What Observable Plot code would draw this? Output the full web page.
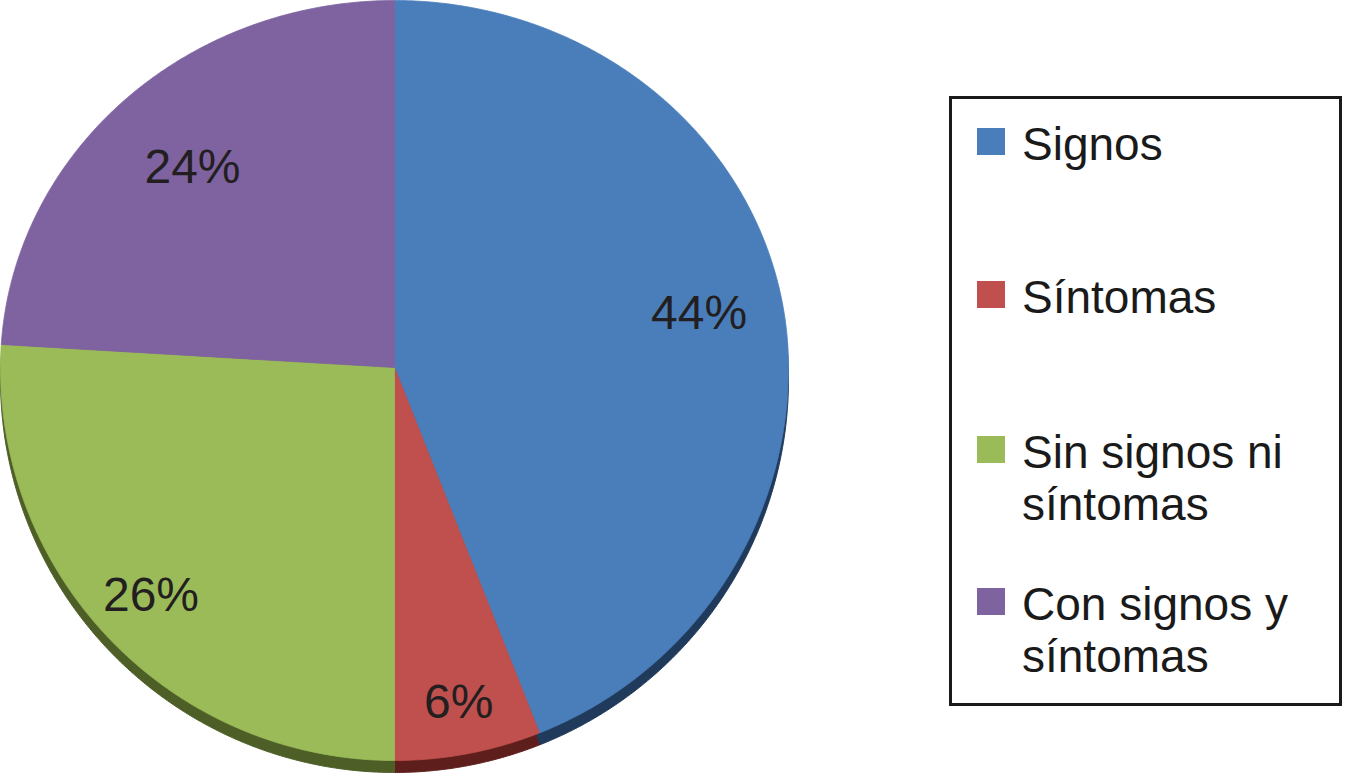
<!DOCTYPE html>
<html>
<head>
<meta charset="utf-8">
<script src="https://cdn.jsdelivr.net/npm/d3@7"></script>
<script src="https://cdn.jsdelivr.net/npm/@observablehq/plot@0.6"></script>
<style>
  html, body { margin: 0; padding: 0; background: #fff; }
  #wrap { position: relative; width: 1346px; height: 775px; font-family: "Liberation Sans", Arial, sans-serif; }
  #chart { position: absolute; left: 0; top: 0; }
  #legend { position: absolute; left: 949px; top: 96px; width: 387px; height: 604px; border: 3px solid #1a1a1a; background: #fff; }
  .item { position: absolute; left: 0; width: 100%; }
  .sw { position: absolute; left: 25px; top: 10px; width: 28px; height: 27px; }
  .lab { position: absolute; left: 70px; top: 0; width: 305px; font-size: 46px; line-height: 52px; color: #1a1a1a; white-space: normal; }
</style>
</head>
<body>
<div id="wrap"><div id="chart"></div><div id="legend"></div></div>
<script>
const categories = ["Signos", "Síntomas", "Sin signos ni síntomas", "Con signos y síntomas"];
const values = [44, 6, 26, 24];
const labels = ["44%", "6%", "26%", "24%"];
const colors = ["#4a7ebb", "#c0504d", "#9bbb59", "#7f63a1"];
const sideColors = ["#1f3a5a", "#5e1f1c", "#4d5e27", "#3e3052"];

// perspective: front half of the tilted disc looks slightly taller than the back half
const front = 393 / 367;
const ty = v => (v < 0 ? v * front : v);

const arcs = d3.pie().sort(null).value(d => d)(values);
const points = [];
arcs.forEach((a, i) => {
  const n = Math.max(4, Math.ceil((a.endAngle - a.startAngle) / 0.005));
  points.push({k: i, x: 0, y: 0});
  for (let j = 0; j <= n; j++) {
    const t = a.startAngle + (a.endAngle - a.startAngle) * j / n;
    points.push({k: i, x: Math.sin(t), y: ty(Math.cos(t))});
  }
  points.push({k: i, x: 0, y: 0});
});
// labels sit a little farther out towards the front of the tilted pie
const labelData = arcs.map((a, i) => {
  const m = (a.startAngle + a.endAngle) / 2;
  const r = 0.80 - 0.07 * Math.cos(m);
  return {x: r * Math.sin(m), y: ty(r * Math.cos(m)), t: labels[i]};
});

const marks = [];
arcs.forEach((a, i) => {
  marks.push(Plot.line(points.filter(p => p.k === i), {x: "x", y: "y", fill: sideColors[i], stroke: sideColors[i], strokeWidth: 1, dy: 12}));
});
arcs.forEach((a, i) => {
  marks.push(Plot.line(points.filter(p => p.k === i), {x: "x", y: "y", fill: colors[i], stroke: colors[i], strokeWidth: 0.8}));
});
marks.push(Plot.text(labelData, {x: "x", y: "y", text: "t", fontSize: 48, fill: "#231f20"}));

const chart = Plot.plot({
  width: 1346,
  height: 775,
  margin: 0,
  style: {fontFamily: "Liberation Sans, Arial, sans-serif", background: "transparent", overflow: "visible"},
  x: {type: "linear", domain: [-1, 1], range: [0, 788], axis: null},
  y: {type: "linear", domain: [-1, 1], range: [734, 0], axis: null},
  marks
});
document.getElementById("chart").appendChild(chart);

const legendTops = [19, 172, 327, 479];
const legend = document.getElementById("legend");
categories.forEach((c, i) => {
  const it = document.createElement("div");
  it.className = "item";
  it.style.top = legendTops[i] + "px";
  const sw = document.createElement("div");
  sw.className = "sw";
  sw.style.background = colors[i];
  const lb = document.createElement("div");
  lb.className = "lab";
  lb.textContent = c;
  it.appendChild(sw);
  it.appendChild(lb);
  legend.appendChild(it);
});
</script>
</body>
</html>
